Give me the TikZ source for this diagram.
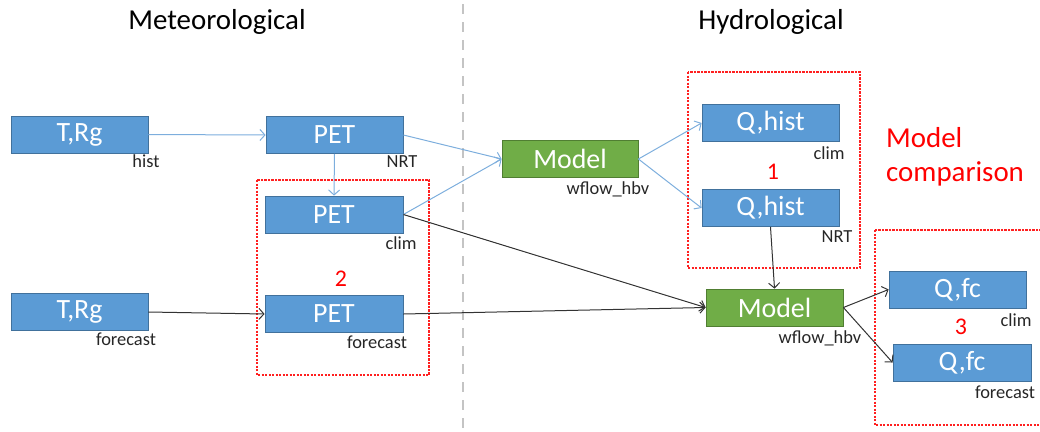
\documentclass[tikz,border=0pt]{standalone}
\usepackage{fontspec}
\setmainfont{Carlito}
\usetikzlibrary{arrows.meta}
\definecolor{boxblue}{HTML}{5B9BD5}
\definecolor{boxblueedge}{HTML}{41719C}
\definecolor{boxgreen}{HTML}{70AD47}
\definecolor{boxgreenedge}{HTML}{507E32}
\definecolor{lineblue}{HTML}{7DAEDD}
\definecolor{dashred}{HTML}{FF2020}
\definecolor{divgray}{HTML}{C4C4C4}
\begin{document}
\begin{tikzpicture}[x=1bp,y=-1bp,
 bluebox/.style={draw=boxblueedge, fill=boxblue, line width=0.8bp, minimum width=137bp, minimum height=37bp, inner sep=0, text=white, font=\fontsize{28}{28}\selectfont},
 greenbox/.style={bluebox, draw=boxgreenedge, fill=boxgreen},
 sublabel/.style={font=\fontsize{18.5}{18.5}\selectfont, text=black!85, inner sep=0},
 redbox/.style={draw=dashred, dash pattern=on 2.2bp off 1.3bp, line width=1.2bp},
 rednum/.style={text=red, font=\fontsize{24}{24}\selectfont, inner sep=0},
 title/.style={font=\fontsize{29}{29}\selectfont, inner sep=0},
 bluearrow/.style={draw=lineblue, line width=1bp, -{Straight Barb[length=5bp,width=11bp]}},
 blackarrow/.style={draw=black!80, line width=1bp, -{Straight Barb[length=5bp,width=11bp]}}
]
\useasboundingbox (0,0) rectangle (1040,431);

% divider
\draw[divgray, line width=2.5bp, dash pattern=on 10bp off 8bp] (463,4) -- (463,431);

% titles
\node[title] (tmet) at (217,22) {Meteorological};
\node[title] (thyd) at (771,22) {Hydrological};

% red dashed groups
\draw[redbox] (257,180) rectangle (429,375);
\draw[redbox] (688,72) rectangle (860,268);
\draw[redbox] (875,230) rectangle (1045,425);

% boxes
\node[bluebox] (trh) at (79.5,134.5) {T,Rg};
\node[bluebox] (petn) at (334.5,135) {PET};
\node[bluebox, minimum width=138bp] (petc) at (334,214.5) {PET};
\node[bluebox] (trf) at (79.5,312) {T,Rg};
\node[bluebox, minimum width=138bp] (petf) at (334,314) {PET};
\node[greenbox, minimum width=136bp] (m1) at (570,159) {Model};
\node[bluebox] (qhc) at (770.5,123) {Q,hist};
\node[bluebox] (qhn) at (770.5,208) {Q,hist};
\node[greenbox] (m2) at (774.5,307.5) {Model};
\node[bluebox] (qfc) at (957.5,289.5) {Q,fc};
\node[bluebox, minimum width=138bp] (qff) at (962,362.5) {Q,fc};

% sub labels
\node[sublabel] (lhist) at (146,161) {hist};
\node[sublabel] (lnrt) at (402,162) {NRT};
\node[sublabel] (lclim) at (401,243) {clim};
\node[sublabel] (lfc1) at (126,339) {forecast};
\node[sublabel] (lfc2) at (377,342) {forecast};
\node[sublabel] (lwf1) at (608,189) {wflow\_hbv};
\node[sublabel] (lclim2) at (829,153) {clim};
\node[sublabel] (lnrt2) at (837,237) {NRT};
\node[sublabel] (lwf2) at (820,338) {wflow\_hbv};
\node[sublabel] (lclim3) at (1016,320) {clim};
\node[sublabel] (lfc3) at (1005,392) {forecast};

% numbers
\node[rednum] (n1) at (773,172) {1};
\node[rednum] (n2) at (341,279) {2};
\node[rednum] (n3) at (961,327) {3};
\node[text=red, font=\fontsize{29}{34}\selectfont, align=left, anchor=west, inner sep=0] (mc) at (886,157) {Model\\comparison};

% connectors
\draw[bluearrow] (trh.east) -- (petn.west);
\draw[bluearrow] (petn.south) -- (petc.north);
\draw[bluearrow] (petn.east) -- (m1.west);
\draw[bluearrow] (petc.east) -- (m1.west);
\draw[bluearrow] (m1.east) -- (qhc.west);
\draw[bluearrow] (m1.east) -- (qhn.west);
\draw[blackarrow] (petc.east) -- (m2.west);
\draw[blackarrow] (trf.east) -- (petf.west);
\draw[blackarrow] (petf.east) -- (m2.west);
\draw[blackarrow] (qhn.south) -- (m2.north);
\draw[blackarrow] (m2.east) -- (qfc.west);
\draw[blackarrow] (m2.east) -- (qff.west);
\end{tikzpicture}
\end{document}
